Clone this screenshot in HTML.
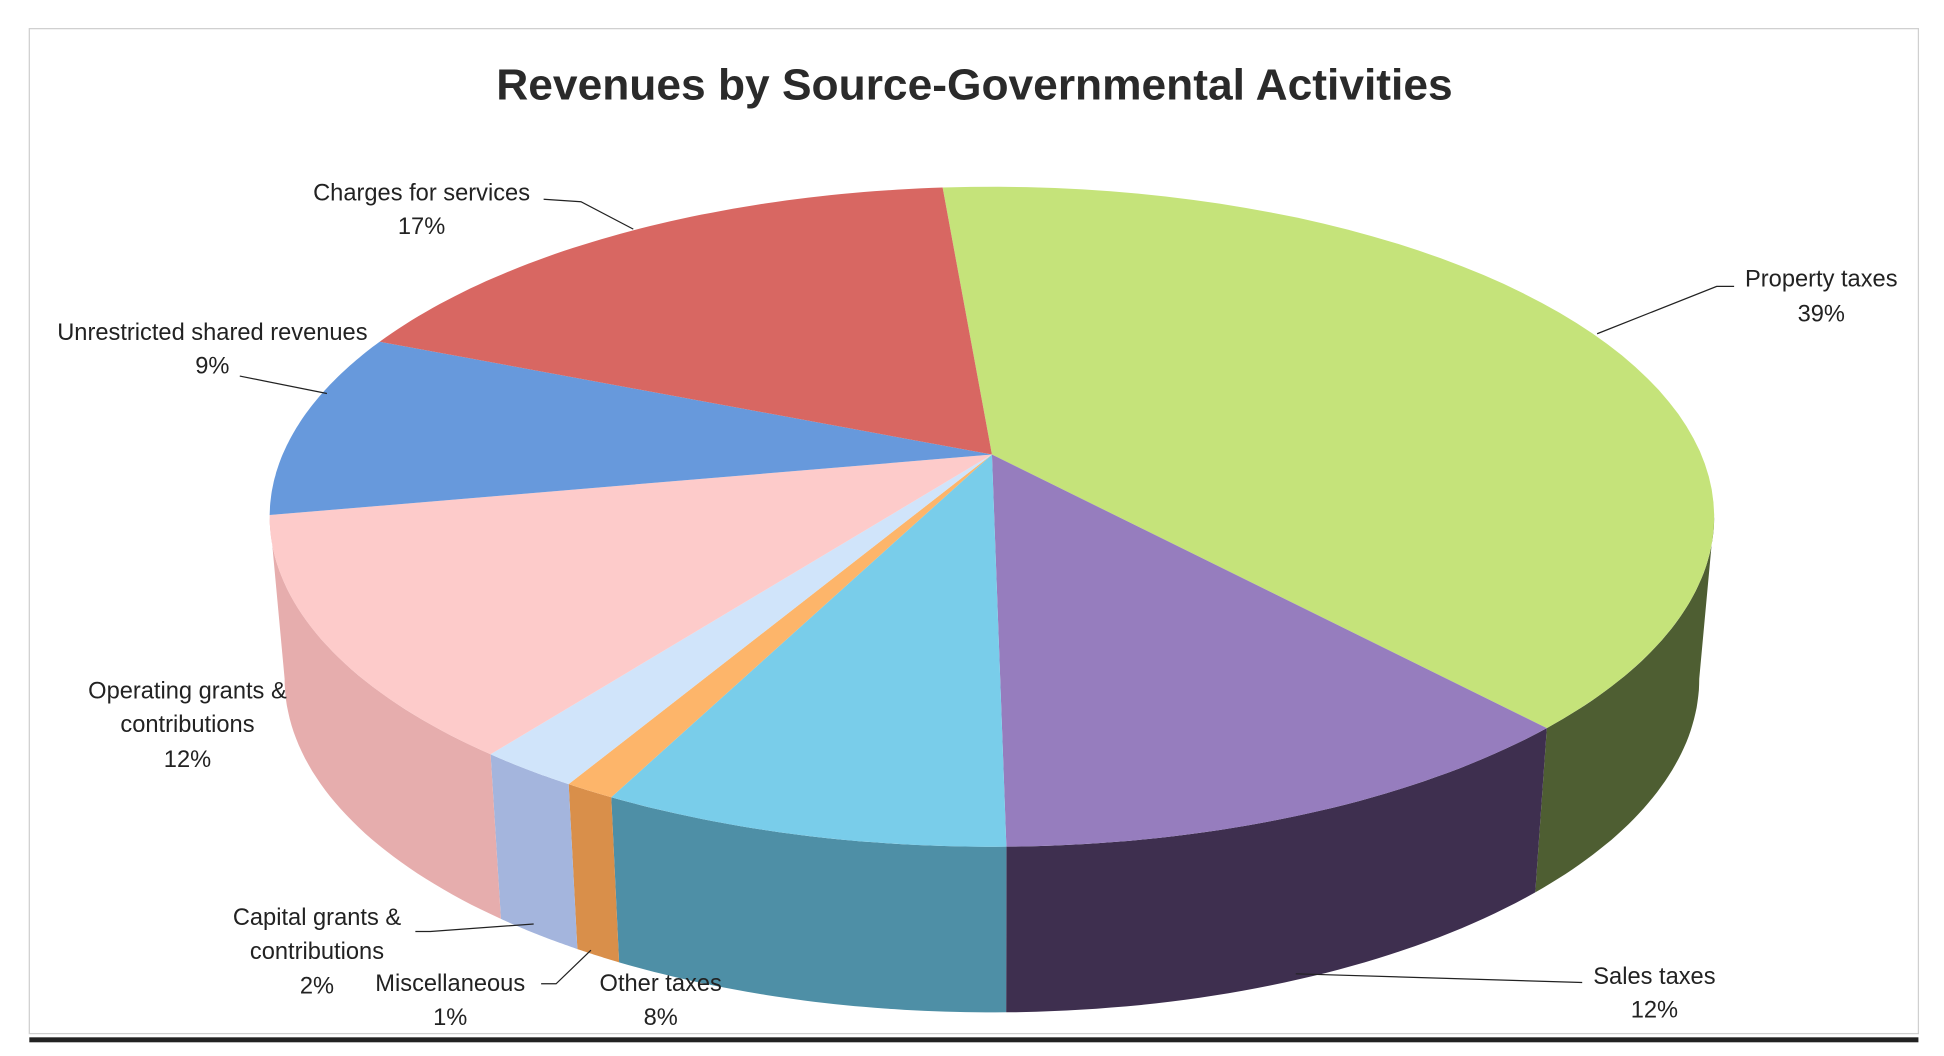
<!DOCTYPE html>
<html><head><meta charset="utf-8"><style>
html,body{margin:0;padding:0;background:#fff;}
svg{display:block;}
text{font-family:"Liberation Sans",sans-serif;fill:#222;}
</style></head><body>
<svg id="chart" width="1944" height="1056" viewBox="0 0 1560 848" xmlns="http://www.w3.org/2000/svg">
<rect x="23" y="23" width="1517" height="807" fill="#fff" stroke="#d0d0d0" stroke-width="1"/>
<rect x="23" y="833" width="1517" height="4" fill="#222"/>
<text x="782" y="80" text-anchor="middle" font-size="35" font-weight="bold" textLength="768" lengthAdjust="spacingAndGlyphs" style="fill:#2a2a2a">Revenues by Source-Governmental Activities</text>
<g id="sides"></g><g id="tops"></g>
<g id="static-labels" font-size="19">
<g>
<polyline points="1282,268 1378,230 1392,230" fill="none" stroke="#222" stroke-width="1"/>
<text x="1462" y="230" text-anchor="middle" font-size="19">Property taxes</text>
<text x="1462" y="258" text-anchor="middle" font-size="19">39%</text></g>
<g>
<polyline points="1040,782 1270,789" fill="none" stroke="#222" stroke-width="1"/>
<text x="1328" y="790" text-anchor="middle" font-size="19">Sales taxes</text>
<text x="1328" y="817" text-anchor="middle" font-size="19">12%</text></g>
<g>
<text x="530" y="796" text-anchor="middle" font-size="19">Other taxes</text>
<text x="530" y="823" text-anchor="middle" font-size="19">8%</text></g>
<g>
<polyline points="474,763 446,790 434,790" fill="none" stroke="#222" stroke-width="1"/>
<text x="361" y="796" text-anchor="middle" font-size="19">Miscellaneous</text>
<text x="361" y="823" text-anchor="middle" font-size="19">1%</text></g>
<g>
<polyline points="428,742 345,748 333,748" fill="none" stroke="#222" stroke-width="1"/>
<text x="254" y="743" text-anchor="middle" font-size="19">Capital grants &amp;</text>
<text x="254" y="770" text-anchor="middle" font-size="19">contributions</text>
<text x="254" y="798" text-anchor="middle" font-size="19">2%</text></g>
<g>
<text x="150" y="561" text-anchor="middle" font-size="19">Operating grants &amp;</text>
<text x="150" y="588" text-anchor="middle" font-size="19">contributions</text>
<text x="150" y="616" text-anchor="middle" font-size="19">12%</text></g>
<g>
<polyline points="262,316 192,302" fill="none" stroke="#222" stroke-width="1"/>
<text x="170" y="273" text-anchor="middle" font-size="19">Unrestricted shared revenues</text>
<text x="170" y="300" text-anchor="middle" font-size="19">9%</text></g>
<g>
<polyline points="508,184 466,162 436,160" fill="none" stroke="#222" stroke-width="1"/>
<text x="338" y="161" text-anchor="middle" font-size="19">Charges for services</text>
<text x="338" y="188" text-anchor="middle" font-size="19">17%</text></g>
</g>
</svg>
<script>
const categories=["Property taxes","Sales taxes","Other taxes","Miscellaneous","Capital grants & contributions","Operating grants & contributions","Unrestricted shared revenues","Charges for services"];
const values=[39,12,8,1,2,12,9,17];
const topColors=["#C5E37A","#967DBE","#79CDEA","#FDB56A","#D0E4FA","#FDCBCA","#6799DC","#D86762"];
const sideColors=["#4E5E32","#3E2F4F","#4E8FA6","#D98F4A","#A4B5DD","#E6ADAD","#4A74B0","#A84C48"];
const ns="http://www.w3.org/2000/svg";
const cx=796,cy=415,rx=580,ry=265,apexY=365,bcy=545,brx=568,bry=268;
const startDeg=-94.6, warp=0.15;
function W(th){return th-warp*Math.cos(th*Math.PI/180)*180/Math.PI;}
function tp(a){const r=a*Math.PI/180;return [cx+rx*Math.cos(r),cy+ry*Math.sin(r)];}
function bp(a){const r=a*Math.PI/180;return [cx+brx*Math.cos(r),bcy+bry*Math.sin(r)];}
const total=values.reduce((s,v)=>s+v,0);
let a=startDeg;
const sides=document.getElementById('sides'),tops=document.getElementById('tops');
values.forEach((v,i)=>{
  const d1=a,d2=a+v/total*360;a=d2;
  const a1=W(d1),a2=W(d2);
  const s1=Math.max(a1,0),s2=Math.min(a2,180);
  if(s2>s1){
    const st=Math.max((s2-s1)/40,0.2);
    let d="";
    for(let t=s1;t<=s2+0.001;t+=st){const p=tp(t);d+=(d?"L":"M")+p[0].toFixed(1)+","+p[1].toFixed(1);}
    let p=tp(s2);d+="L"+p[0].toFixed(1)+","+p[1].toFixed(1);
    for(let t=s2;t>=s1-0.001;t-=st){const q=bp(t);d+="L"+q[0].toFixed(1)+","+q[1].toFixed(1);}
    p=bp(s1);d+="L"+p[0].toFixed(1)+","+p[1].toFixed(1)+"Z";
    const el=document.createElementNS(ns,'path');
    el.setAttribute('d',d);el.setAttribute('fill',sideColors[i]);
    
    
    sides.appendChild(el);
  }
  let d="M"+cx+","+apexY;
  const st=Math.max((a2-a1)/60,0.2);
  for(let t=a1;t<=a2+0.001;t+=st){const p=tp(t);d+="L"+p[0].toFixed(1)+","+p[1].toFixed(1);}
  const pe=tp(a2);d+="L"+pe[0].toFixed(1)+","+pe[1].toFixed(1)+"Z";
  const el=document.createElementNS(ns,'path');
  el.setAttribute('d',d);el.setAttribute('fill',topColors[i]);
  
  
  tops.appendChild(el);
});
</script>
</body></html>
